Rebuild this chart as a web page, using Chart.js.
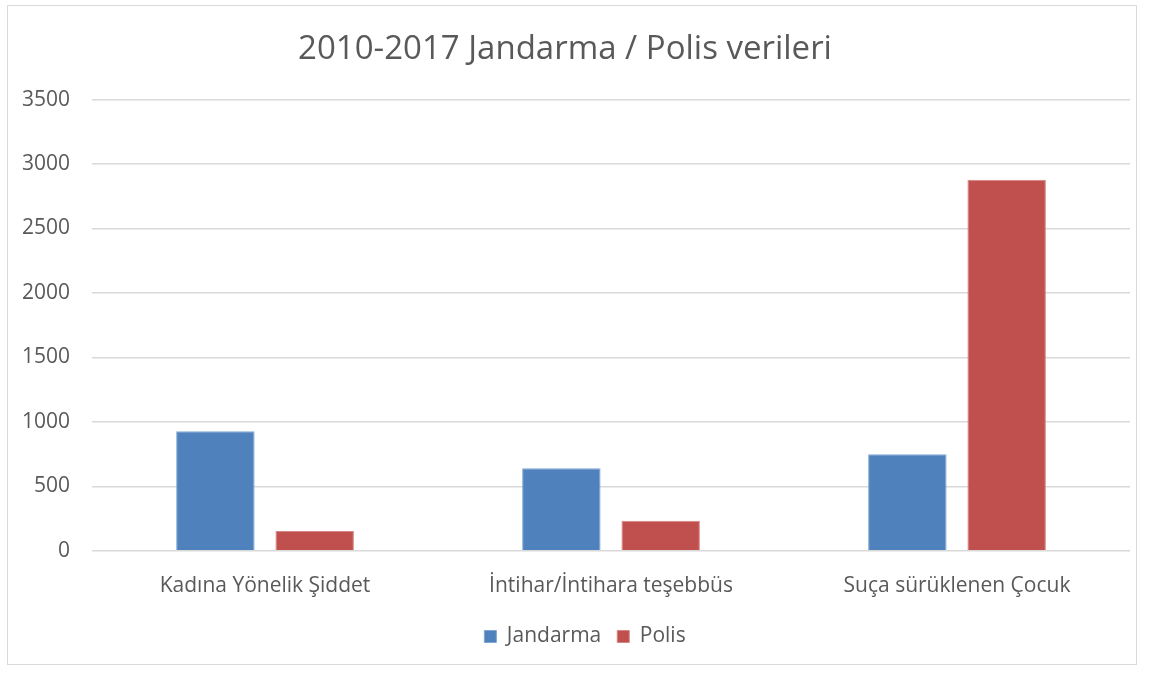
<!DOCTYPE html>
<html>
<head>
    <meta charset="utf-8">
    <title>2010-2017 Jandarma / Polis verileri</title>
    <style>
        body {
            margin: 0;
            background-color: #ffffff;
        }
        #chart-box {
            position: absolute;
            left: 7px;
            top: 5px;
            width: 1130px;
            height: 660px;
            border: 1px solid #d9d9d9;
            box-sizing: border-box;
        }
    </style>
</head>
<body>
    <div id="chart-box">
        <canvas id="myChart"></canvas>
    </div>
    <script src="https://cdn.jsdelivr.net/npm/chart.js"></script>
    <script>
        // categories and series
        const categories = ['Kadına Yönelik Şiddet', 'İntihar/İntihara teşebbüs', 'Suça sürüklenen Çocuk'];
        const jandarma = [928, 640, 749];
        const polis = [153, 233, 2878];
        const yTicks = [0, 500, 1000, 1500, 2000, 2500, 3000, 3500];

        const fontFamily = "'Open Sans', 'Liberation Sans', sans-serif";

        const data = {
            labels: categories,
            datasets: [{
                label: 'Jandarma',
                backgroundColor: '#4f81bd',
                borderColor: '#7fa6d4',
                borderWidth: 1,
                data: jandarma,
                barPercentage: 0.79,
                categoryPercentage: 0.574
            }, {
                label: 'Polis',
                backgroundColor: '#c0504d',
                borderColor: '#d58583',
                borderWidth: 1,
                data: polis,
                barPercentage: 0.79,
                categoryPercentage: 0.574
            }]
        };

        const options = {
            responsive: true,
            maintainAspectRatio: false,
            animation: false,
            layout: {
                padding: { left: -8, right: 6, top: 0, bottom: 3 }
            },
            scales: {
                x: {
                    grid: { display: false },
                    border: { display: false },
                    ticks: {
                        color: '#595959',
                        padding: 15,
                        font: { family: fontFamily, size: 21 }
                    }
                },
                y: {
                    min: 0,
                    max: 3500,
                    afterBuildTicks: (axis) => {
                        axis.ticks = yTicks.map(v => ({ value: v }));
                    },
                    grid: {
                        color: '#d9d9d9',
                        lineWidth: 1.5,
                        drawTicks: false
                    },
                    border: { display: false },
                    ticks: {
                        color: '#595959',
                        padding: 22,
                        font: { family: fontFamily, size: 21 },
                        callback: (v) => String(v)
                    }
                }
            },
            plugins: {
                title: {
                    display: true,
                    text: '2010-2017 Jandarma / Polis verileri',
                    color: '#595959',
                    font: { family: fontFamily, size: 33, weight: 'normal' },
                    padding: { top: 24, bottom: 30 }
                },
                legend: {
                    position: 'bottom',
                    labels: {
                        color: '#595959',
                        boxWidth: 12,
                        boxHeight: 12,
                        padding: 16,
                        font: { family: fontFamily, size: 21 }
                    }
                },
                tooltip: { enabled: false }
            }
        };

        // the legend sits a bit right of centre in the original
        const legendShift = {
            id: 'legendShift',
            afterLayout(chart) {
                chart.legend.left += 20;
                chart.legend.right += 20;
                chart.legend.top -= 4;
                chart.legend.bottom -= 4;
            }
        };

        const ctx = document.getElementById('myChart').getContext('2d');
        const myChart = new Chart(ctx, {
            type: 'bar',
            data: data,
            options: options,
            plugins: [legendShift]
        });
    </script>
</body>
</html>
